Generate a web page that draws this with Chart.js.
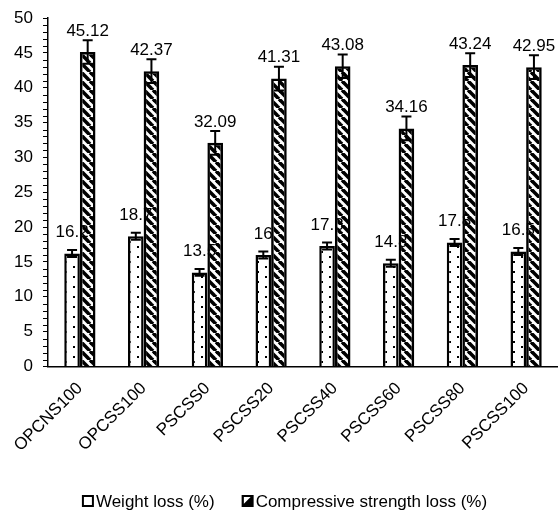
<!DOCTYPE html>
<html>
<head>
<meta charset="utf-8">
<script src="https://cdn.jsdelivr.net/npm/chart.js@4/dist/chart.umd.min.js"></script>
<style>
  html, body { margin: 0; padding: 0; background: #fff; }
  canvas { display: block; }
</style>
</head>
<body>
<canvas id="chart" width="558" height="515"></canvas>
<script>
// Mix designs on the category axis
const mixes = ['OPCNS100', 'OPCSS100', 'PSCSS0', 'PSCSS20', 'PSCSS40', 'PSCSS60', 'PSCSS80', 'PSCSS100'];

// Weight loss (%) and its error margin
const weightLoss = [16.2, 18.7, 13.5, 16, 17.3, 14.8, 17.8, 16.5];
const weightLossErr = [0.5, 0.5, 0.5, 0.5, 0.5, 0.5, 0.5, 0.5];

// Compressive strength loss (%) and its error margin
const strengthLoss = [45.12, 42.37, 32.09, 41.31, 43.08, 34.16, 43.24, 42.95];
const strengthLossErr = [1.7, 1.7, 1.7, 1.7, 1.7, 1.7, 1.7, 1.7];

const seriesNames = ['Weight loss (%)', 'Compressive strength loss (%)'];

// Value axis range
const yMin = 0;
const yMax = 50;
const yStep = 5;

const FONT = '"Liberation Sans", Arial, sans-serif';

// Fill patterns: sparse dots for weight loss, diagonal hatching
// (transparent between the stripes) for strength loss
function makeDots() {
  const c = document.createElement('canvas');
  c.width = 16; c.height = 10;
  const g = c.getContext('2d');
  g.fillStyle = '#fff'; g.fillRect(0, 0, 16, 10);
  g.fillStyle = '#000';
  g.fillRect(1, 1, 2, 2);
  g.fillRect(9, 6, 2, 2);
  return g.createPattern(c, 'repeat');
}
function makeStripes() {
  const s = 9;
  const c = document.createElement('canvas');
  c.width = s; c.height = s;
  const g = c.getContext('2d');
  g.strokeStyle = '#000'; g.lineWidth = 3.6;
  for (const o of [-s, 0, s]) {
    g.beginPath(); g.moveTo(o, 0); g.lineTo(o + s, s); g.stroke();
  }
  return g.createPattern(c, 'repeat');
}
const dotFill = makeDots();
const stripeFill = makeStripes();

const errorSets = [weightLossErr, strengthLossErr];

function drawValue(g, v, x, y) {
  g.save();
  g.fillStyle = '#000';
  g.font = '17px ' + FONT;
  g.textAlign = 'center';
  g.textBaseline = 'middle';
  g.fillText(String(v), x, y - 21);
  g.restore();
}

// Value labels and error bars. Weight-loss labels go down first so the
// hatched bars are painted over them.
const barDecor = {
  id: 'barDecor',
  beforeDatasetsDraw(chart) {
    const meta = chart.getDatasetMeta(0);
    meta.data.forEach((bar, i) => drawValue(chart.ctx, weightLoss[i], bar.x, bar.y));
  },
  afterDatasetDraw(chart, args) {
    const ds = chart.data.datasets[args.index];
    const errs = errorSets[args.index];
    const y = chart.scales.y;
    const g = chart.ctx;
    args.meta.data.forEach((bar, i) => {
      const v = ds.data[i];
      const x = bar.x;
      const hi = y.getPixelForValue(v + errs[i]);
      const lo = y.getPixelForValue(v - errs[i]);
      g.save();
      g.strokeStyle = '#000';
      g.lineWidth = 2;
      g.beginPath();
      g.moveTo(x, hi); g.lineTo(x, lo);
      g.moveTo(x - 5, hi); g.lineTo(x + 5, hi);
      g.moveTo(x - 5, lo); g.lineTo(x + 5, lo);
      g.stroke();
      g.restore();
      if (args.index === 1) drawValue(g, v, x, bar.y);
    });
  },
  afterDraw(chart) {
    const g = chart.ctx;
    const y = chart.scales.y;
    const left = chart.chartArea.left;
    g.save();
    // minor tick marks at every unit
    g.strokeStyle = '#000';
    g.lineWidth = 1;
    g.beginPath();
    for (let v = yMin; v <= yMax; v++) {
      if (v % yStep === 0) continue;
      const py = Math.round(y.getPixelForValue(v)) + 0.5;
      g.moveTo(left - 5, py); g.lineTo(left, py);
    }
    g.stroke();

    // legend
    g.font = '17px ' + FONT;
    g.textBaseline = 'middle';
    g.textAlign = 'left';
    const box = 10, gap = 3, sep = 28;
    const w0 = g.measureText(seriesNames[0]).width;
    const w1 = g.measureText(seriesNames[1]).width;
    const total = box + gap + w0 + sep + box + gap + w1;
    let x = 285 - total / 2;
    const cy = 501;
    seriesNames.forEach((name, i) => {
      const bx = x, by = cy - box / 2;
      if (i === 0) {
        g.fillStyle = '#fff';
        g.fillRect(bx, by, box, box);
      } else {
        g.fillStyle = '#000';
        g.fillRect(bx, by, box, box);
        g.fillStyle = '#fff';
        g.beginPath();
        g.moveTo(bx + 1, by + 1); g.lineTo(bx + box - 2, by + 1); g.lineTo(bx + 1, by + box - 2);
        g.closePath(); g.fill();
      }
      g.strokeStyle = '#000';
      g.lineWidth = 2;
      g.strokeRect(bx, by, box, box);
      g.fillStyle = '#000';
      g.fillText(name, x + box + gap, cy + 1);
      x += box + gap + (i === 0 ? w0 : w1) + sep;
    });
    g.restore();
  }
};

new Chart(document.getElementById('chart'), {
  type: 'bar',
  data: {
    labels: mixes,
    datasets: [
      {
        label: seriesNames[0],
        data: weightLoss,
        backgroundColor: dotFill,
        borderColor: '#000',
        borderWidth: 2.5,
        categoryPercentage: 0.49,
        barPercentage: 1
      },
      {
        label: seriesNames[1],
        data: strengthLoss,
        backgroundColor: stripeFill,
        borderColor: '#000',
        borderWidth: 2.5,
        categoryPercentage: 0.49,
        barPercentage: 1
      }
    ]
  },
  options: {
    responsive: false,
    animation: false,
    devicePixelRatio: 1,
    layout: { padding: { left: 14, right: 0, top: 18, bottom: 55.3 } },
    plugins: {
      legend: { display: false },
      tooltip: { enabled: false }
    },
    scales: {
      x: {
        grid: { display: false },
        border: { display: true, color: '#000', width: 1.5 },
        ticks: {
          color: '#000',
          font: { family: FONT, size: 17 },
          minRotation: 45,
          maxRotation: 45,
          autoSkip: false,
          padding: 4
        },
        afterFit(scale) {
          scale.paddingLeft = 0;
          scale.paddingRight = 0;
        }
      },
      y: {
        min: yMin,
        max: yMax,
        ticks: {
          stepSize: yStep,
          color: '#000',
          font: { family: FONT, size: 17 },
          padding: 10
        },
        grid: { drawOnChartArea: false, drawTicks: true, tickLength: 5, color: '#000' },
        border: { display: true, color: '#000', width: 1.5 },
        afterFit(scale) {
          scale.width = 34;
          scale.paddingTop = 0;
          scale.paddingBottom = 0;
        }
      }
    }
  },
  plugins: [barDecor]
});
</script>
</body>
</html>
